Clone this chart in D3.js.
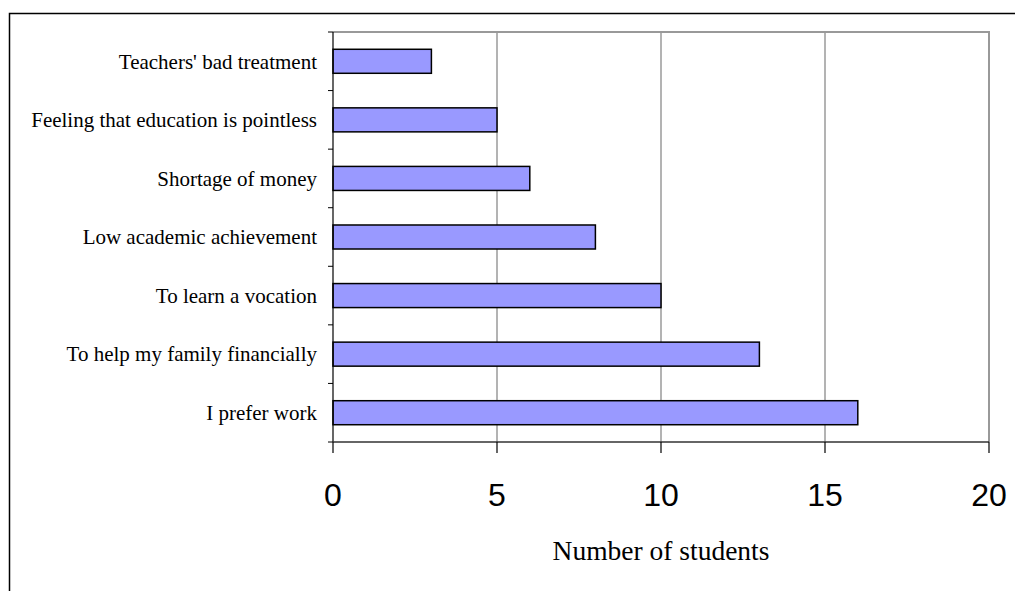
<!DOCTYPE html>
<html>
<head>
<meta charset="utf-8">
<script src="https://cdn.jsdelivr.net/npm/d3@7"></script>
<style>
  html, body { margin: 0; padding: 0; background: #fff; }
  svg { display: block; }
</style>
</head>
<body>
<svg id="chart" width="1015" height="591"></svg>
<script>
// Reasons given by students for leaving school
const reasons = [
  "Teachers' bad treatment",
  "Feeling that education is pointless",
  "Shortage of money",
  "Low academic achievement",
  "To learn a vocation",
  "To help my family financially",
  "I prefer work"
];
const students = [3, 5, 6, 8, 10, 13, 16];
const xTicks = [0, 5, 10, 15, 20];
const xTitle = "Number of students";

const svg = d3.select("#chart");
const plot = { left: 333, right: 989, top: 32, bottom: 442 };

// Outer frame
svg.append("rect")
  .attr("x", 9.5).attr("y", 13.5)
  .attr("width", 1100).attr("height", 700)
  .attr("fill", "none").attr("stroke", "#000").attr("stroke-width", 1.5);

const x = d3.scaleLinear().domain([0, 20]).range([plot.left, plot.right]);
const y = d3.scaleBand().domain(reasons).range([plot.top, plot.bottom])
  .paddingInner(0.59).paddingOuter(0.295);
const yEdges = d3.scaleLinear().domain([0, reasons.length]).range([plot.top, plot.bottom]);

// Vertical gridlines
svg.append("g").selectAll("line")
  .data(xTicks.filter(d => d > 0))
  .join("line")
  .attr("x1", d => x(d)).attr("x2", d => x(d))
  .attr("y1", plot.top).attr("y2", plot.bottom)
  .attr("stroke", "#808080").attr("stroke-width", 1.2);

// Plot border (top and right)
svg.append("path")
  .attr("d", `M${plot.left},${plot.top}H${plot.right}V${plot.bottom}`)
  .attr("fill", "none").attr("stroke", "#999").attr("stroke-width", 2);

// Bars
svg.append("g").selectAll("rect")
  .data(reasons)
  .join("rect")
  .attr("x", x(0))
  .attr("y", d => y(d))
  .attr("width", (d, i) => x(students[i]) - x(0))
  .attr("height", y.bandwidth())
  .attr("fill", "#9999FF")
  .attr("stroke", "#000").attr("stroke-width", 1.5);

// Y axis line and ticks at category boundaries
const yAxis = svg.append("g");
yAxis.append("line")
  .attr("x1", plot.left).attr("x2", plot.left)
  .attr("y1", plot.top).attr("y2", plot.bottom)
  .attr("stroke", "#000").attr("stroke-width", 1.2);
yAxis.selectAll("line.tick")
  .data(d3.range(reasons.length + 1))
  .join("line").attr("class", "tick")
  .attr("x1", plot.left - 5).attr("x2", plot.left)
  .attr("y1", d => yEdges(d)).attr("y2", d => yEdges(d))
  .attr("stroke", "#000").attr("stroke-width", 1);

// Category labels
svg.append("g").selectAll("text")
  .data(reasons)
  .join("text")
  .attr("x", plot.left - 16)
  .attr("y", d => y(d) + y.bandwidth() / 2)
  .attr("dy", "0.35em")
  .attr("text-anchor", "end")
  .attr("font-family", "'Liberation Serif', 'Times New Roman', serif")
  .attr("font-size", 21)
  .attr("fill", "#000")
  .text(d => d);

// X axis
const xAxis = svg.append("g");
xAxis.append("line")
  .attr("x1", plot.left).attr("x2", plot.right)
  .attr("y1", plot.bottom).attr("y2", plot.bottom)
  .attr("stroke", "#333").attr("stroke-width", 1.5);
xAxis.selectAll("line.tick")
  .data(xTicks)
  .join("line").attr("class", "tick")
  .attr("x1", d => x(d)).attr("x2", d => x(d))
  .attr("y1", plot.bottom).attr("y2", plot.bottom + 11)
  .attr("stroke", "#000").attr("stroke-width", 1.2);
xAxis.selectAll("text")
  .data(xTicks)
  .join("text")
  .attr("x", d => x(d))
  .attr("y", 506)
  .attr("text-anchor", "middle")
  .attr("font-family", "'Liberation Sans', Arial, sans-serif")
  .attr("font-size", 32)
  .attr("fill", "#000")
  .text(d => d);

// X axis title
svg.append("text")
  .attr("x", (plot.left + plot.right) / 2)
  .attr("y", 560)
  .attr("text-anchor", "middle")
  .attr("font-family", "'Liberation Serif', 'Times New Roman', serif")
  .attr("font-size", 27.5)
  .attr("fill", "#000")
  .text(xTitle);
</script>
</body>
</html>
